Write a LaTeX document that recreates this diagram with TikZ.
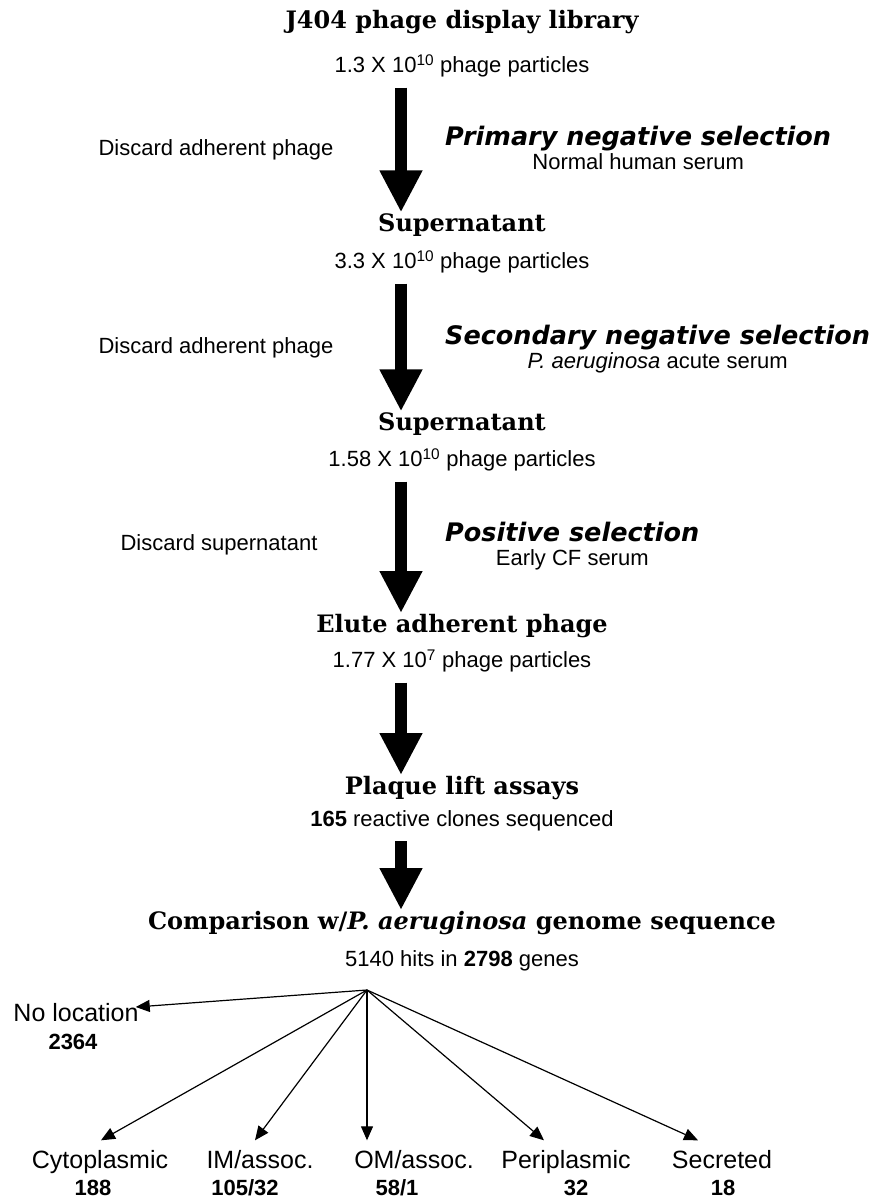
\documentclass[tikz,border=0pt]{standalone}
\usepackage{fontspec}
\setmainfont{Liberation Sans}
\newfontfamily\headfont{DejaVu Serif}
\newfontfamily\selfont{DejaVu Sans}
\usetikzlibrary{arrows.meta, positioning}

\begin{document}
\begin{tikzpicture}[
  x=1pt, y=-1pt,
  >=Triangle,
  head/.style={inner sep=0pt, font=\headfont\bfseries\fontsize{24}{28}\selectfont},
  count/.style={inner sep=0pt, font=\fontsize{22}{26}\selectfont},
  side/.style={inner sep=0pt, font=\fontsize{22}{26}\selectfont},
  sel/.style={inner sep=0pt, anchor=west, text height=19pt, text depth=6pt, font=\selfont\bfseries\itshape\fontsize{25.5}{30}\selectfont},
  selsub/.style={inner sep=0pt, text height=16pt, text depth=4pt, font=\fontsize{22}{26}\selectfont},
  loc/.style={inner xsep=0pt, inner ysep=10pt, text height=18pt, text depth=5pt, font=\fontsize{25}{29}\selectfont},
  num/.style={inner sep=0pt, text height=16pt, text depth=0pt, font=\bfseries\fontsize{22}{26}\selectfont},
  bigarrow/.style={line width=12pt, -{Triangle[length=42pt,width=40pt]}, shorten <=10pt, shorten >=1pt},
  fanarrow/.style={line width=1.2pt, -{Triangle[length=14pt,width=12pt]}}
]
\useasboundingbox (0,0) rectangle (880,1198);

\coordinate (col) at (401,0);

% main column
\node[head] (lib) at (462,22) {J404 phage display library};
\node[count] (n0) at (462,66) {1.3 X 10\textsuperscript{10} phage particles};
\node[head] (sup1) at (462,225) {Supernatant};
\node[count] (n1) at (462,262) {3.3 X 10\textsuperscript{10} phage particles};
\node[head] (sup2) at (462,424) {Supernatant};
\node[count] (n2) at (462,460) {1.58 X 10\textsuperscript{10} phage particles};
\node[head] (elute) at (462,626) {Elute adherent phage};
\node[count] (n3) at (462,661) {1.77 X 10\textsuperscript{7} phage particles};
\node[head] (plaque) at (462,788) {Plaque lift assays};
\node[count] (n4) at (462,821) {\textbf{165} reactive clones sequenced};
\node[head] (comp) at (462,923) {Comparison w/\textit{P. aeruginosa} genome sequence};
\node[count] (n5) at (462,961) {5140 hits in \textbf{2798} genes};

% selection steps
\node[sel] (neg1) at (445,139) {Primary negative selection};
\node[selsub, below=2pt of neg1] (neg1s) {Normal human serum};
\node[sel] (neg2) at (445,338) {Secondary negative selection};
\node[selsub, below=2pt of neg2] (neg2s) {\textit{P. aeruginosa} acute serum};
\node[sel] (pos) at (445,535) {Positive selection};
\node[selsub, below=2pt of pos] (poss) {Early CF serum};

\node[side] (disc1) at (216,150) {Discard adherent phage};
\node[side] (disc2) at (216,348) {Discard adherent phage};
\node[side] (disc3) at (219,545) {Discard supernatant};

\draw[bigarrow] (n0.south -| col) -- (sup1.north -| col);
\draw[bigarrow] (n1.south -| col) -- (sup2.north -| col);
\draw[bigarrow] (n2.south -| col) -- (elute.north -| col);
\draw[bigarrow] (n3.south -| col) -- (plaque.north -| col);
\draw[bigarrow] (n4.south -| col) -- (comp.north -| col);

% localisation
\coordinate (fan) at (367,990);
\node[loc, inner ysep=0pt] (noloc) at (76,1015) {No location};
\node[num] (nolocN) at (73,1041) {2364};
\node[loc] (cyto) at (100,1162) {Cytoplasmic};
\node[num] (cytoN) at (93,1187) {188};
\node[loc] (im) at (260,1162) {IM/assoc.};
\node[num] (imN) at (245,1187) {105/32};
\node[loc] (om) at (414,1162) {OM/assoc.};
\node[num] (omN) at (397,1187) {58/1};
\node[loc] (peri) at (566,1162) {Periplasmic};
\node[num] (periN) at (576,1187) {32};
\node[loc] (secr) at (722,1162) {Secreted};
\node[num] (secrN) at (723,1187) {18};

\draw[fanarrow] (fan) -- ([xshift=-3pt,yshift=8pt]noloc.east);
\draw[fanarrow] (fan) -- ([xshift=1pt]cyto.north);
\draw[fanarrow] (fan) -- ([xshift=-5pt]im.north);
\draw[fanarrow] (fan) -- (om.north -| fan);
\draw[fanarrow] (fan) -- ([xshift=-22pt]peri.north);
\draw[fanarrow] (fan) -- ([xshift=-24pt]secr.north);

\end{tikzpicture}
\end{document}
